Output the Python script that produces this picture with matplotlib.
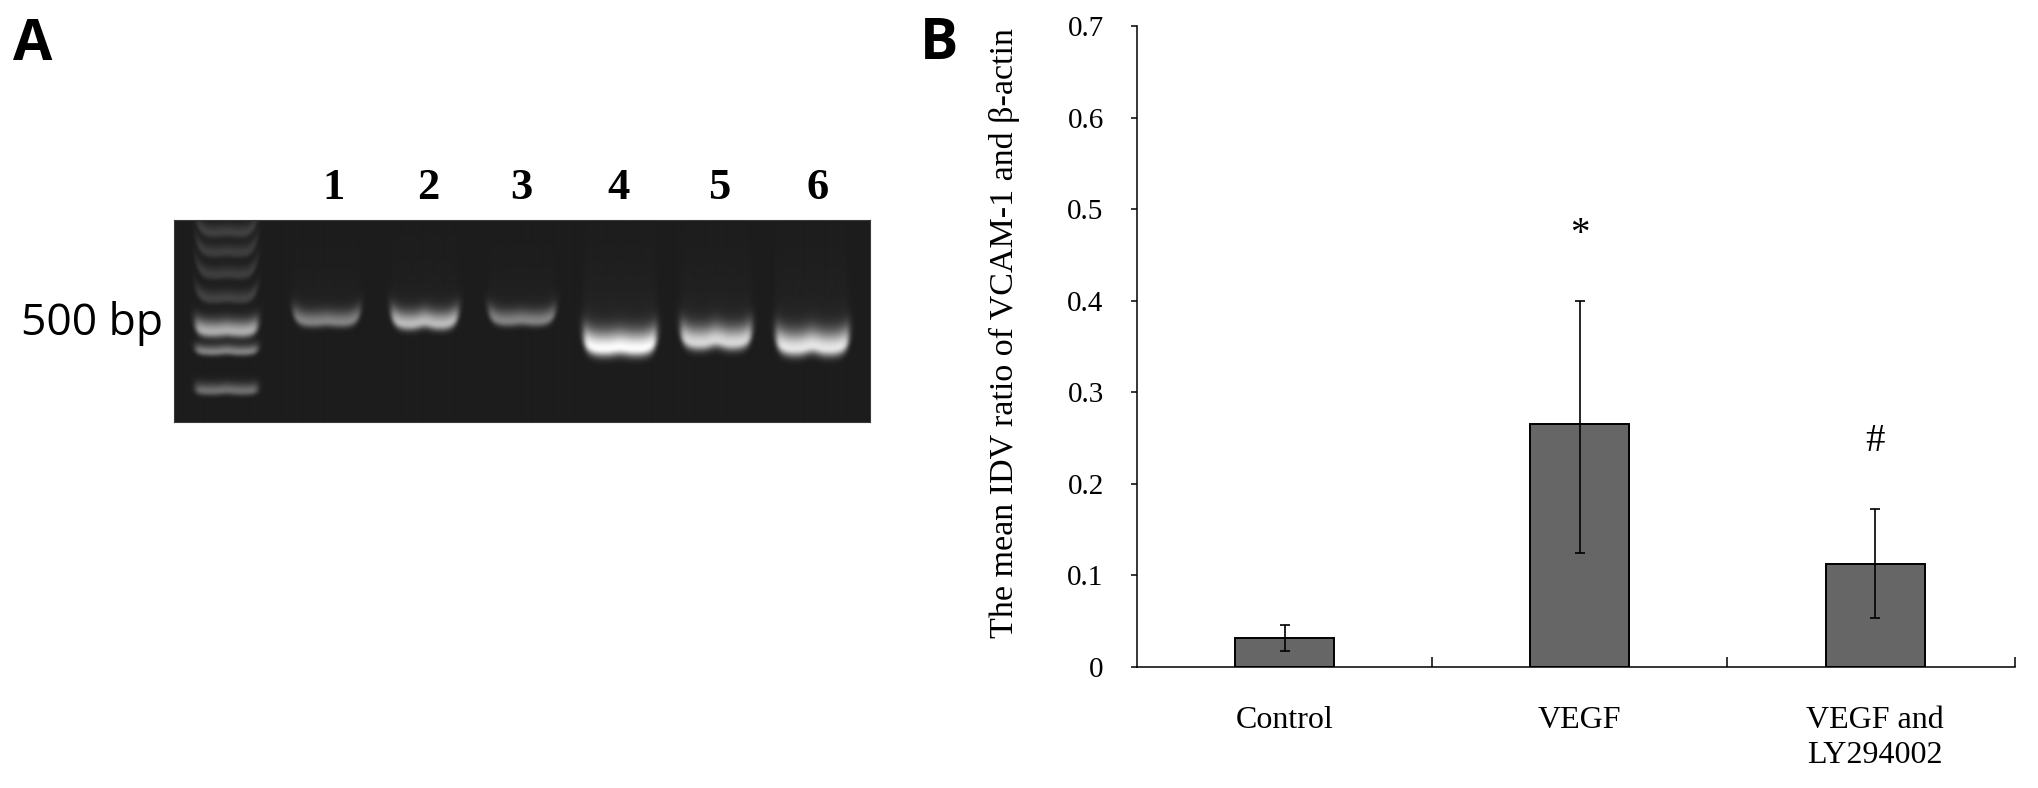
#!/usr/bin/env python3
"""Two panel figure: gel picture (A) and VCAM-1 bar chart (B)."""

import numpy as np
import matplotlib
matplotlib.use("Agg")
import matplotlib.pyplot as plt

# panel B values
categories = ["Control", "VEGF", "VEGF and\nLY294002"]
means = [0.032, 0.265, 0.113]
err_low = [0.014, 0.140, 0.060]
err_high = [0.014, 0.135, 0.059]
marks = ["", "*", "#"]
mark_heights = [None, 0.472, 0.246]
y_ticks = [0, 0.1, 0.2, 0.3, 0.4, 0.5, 0.6, 0.7]
y_tick_labels = ["0", "0.1", "0.2", "0.3", "0.4", "0.5", "0.6", "0.7"]

# panel A gel, positions in image pixels
lane_labels = ["1", "2", "3", "4", "5", "6"]
lane_label_x = [334, 428, 521, 619, 719, 818]
lane_x = [326, 424, 521, 619, 715, 811]
lane_half = [33, 33, 33, 36, 35, 36]
lane_edge = [327, 330, 326, 356, 350, 356]
lane_peak = [0.36, 0.58, 0.36, 0.80, 0.66, 0.72]
lane_thick = [11, 13, 11, 17, 16, 17]
lane_glow = [0.06, 0.06, 0.06, 0.10, 0.09, 0.09]
lane_notch = [1.0, 2.5, 1.0, 1.5, 3.0, 3.0]
ladder_y = [232, 252, 274, 298, 330, 351, 390]
ladder_peak = [0.15, 0.14, 0.14, 0.16, 0.58, 0.42, 0.34]
ladder_thick = [9, 9, 9, 9, 12, 7, 8]
ladder_curl = [16, 16, 16, 12, 6, 3, 2]

W, H = 2038, 788
GEL_X0, GEL_X1, GEL_Y0, GEL_Y1 = 174, 870, 220, 422
AX_X0, AX_X1, AX_Y0, AX_Y1 = 1137, 2015, 26, 667
SERIF = "Liberation Serif"
SANS = "Open Sans"


def add_band(img, xx, yy, cx, half, edge, peak, thick, glow, curl=9.0, notch=2.5):
    """Add one smiling band to the gel array."""
    u = (xx - cx) / half
    y_edge = edge - curl * u ** 6 - notch * np.exp(-(u / 0.25) ** 2)
    d = y_edge - yy
    side = 0.5 * (np.tanh((1 - np.abs(u)) * half / 3.0) + 1)
    centre = d - thick * 0.45
    above = peak * np.exp(-(centre / thick) ** 2) + glow * np.exp(-np.clip(d, 0, None) / (thick * 2.5))
    below = (peak + glow) * np.exp(-(centre / (thick * 0.45)) ** 2)
    img += side * np.where(centre > 0, above, below)


def blur(img, size=7):
    kernel = np.hanning(size + 2)[1:-1]
    kernel = kernel / kernel.sum()
    pad = size // 2
    out = np.pad(img, pad, mode="edge")
    out = np.apply_along_axis(lambda r: np.convolve(r, kernel, mode="same"), 0, out)
    out = np.apply_along_axis(lambda r: np.convolve(r, kernel, mode="same"), 1, out)
    return out[pad:-pad, pad:-pad]


def draw_gel(ax):
    xs = np.arange(GEL_X0, GEL_X1)
    ys = np.arange(GEL_Y0, GEL_Y1)
    xx, yy = np.meshgrid(xs, ys)
    img = np.zeros_like(xx, dtype=float)
    for y, p, t, c in zip(ladder_y, ladder_peak, ladder_thick, ladder_curl):
        add_band(img, xx, yy, 226, 31, y + t * 0.6, p, t, 0.0, curl=c, notch=1.0)
    for i in range(len(lane_x)):
        add_band(img, xx, yy, lane_x[i], lane_half[i], lane_edge[i], lane_peak[i],
                 lane_thick[i], lane_glow[i], notch=lane_notch[i])
    img = np.clip(0.11 + blur(img), 0, 1)
    ax.imshow(img, cmap="gray", vmin=0, vmax=1, aspect="auto", interpolation="bilinear")
    ax.set_xticks([])
    ax.set_yticks([])
    for s in ax.spines.values():
        s.set_color("#3a3a3a")
        s.set_linewidth(0.8)


def main():
    fig = plt.figure(figsize=(W / 100, H / 100), dpi=100, facecolor="white")

    gel = fig.add_axes([GEL_X0 / W, 1 - GEL_Y1 / H, (GEL_X1 - GEL_X0) / W, (GEL_Y1 - GEL_Y0) / H])
    draw_gel(gel)

    ax = fig.add_axes([AX_X0 / W, 1 - AX_Y1 / H, (AX_X1 - AX_X0) / W, (AX_Y1 - AX_Y0) / H])
    pos = np.arange(len(categories))
    x_end = 2.474
    ax.bar(pos, means, width=0.335, color="#666666", edgecolor="black", linewidth=1.4,
           yerr=[err_low, err_high], ecolor="black",
           error_kw={"elinewidth": 1.2, "capsize": 3.5, "capthick": 1.2})
    ax.set_xlim(-0.5, x_end)
    ax.set_ylim(0, 0.7)
    ax.spines["top"].set_visible(False)
    ax.spines["right"].set_visible(False)
    ax.spines["left"].set_linewidth(1.1)
    ax.spines["bottom"].set_linewidth(1.1)

    ax.set_yticks(y_ticks)
    ax.set_yticklabels(y_tick_labels, family=SERIF, fontsize=21)
    ax.tick_params(axis="y", direction="out", length=4, width=1.1, pad=20)
    ax.set_xticks([0.5, 1.5, x_end])
    ax.set_xticklabels([])
    ax.tick_params(axis="x", direction="in", length=7, width=1.1)

    for i, label in enumerate(categories):
        ax.annotate(label, xy=(pos[i], 0), xytext=(0, -28), textcoords="offset points",
                    ha="center", va="top", family=SERIF, fontsize=23, linespacing=1.3,
                    annotation_clip=False)
    for i, m in enumerate(marks):
        if m:
            ax.text(pos[i], mark_heights[i], m, ha="center", va="center", family=SERIF, fontsize=28)

    fig.text(1004 / W, 1 - 333 / H, "The mean IDV ratio of VCAM-1 and β-actin", rotation=90,
             ha="center", va="center", family=SERIF, fontsize=24.5)

    # panel letters and gel labels
    fig.text(13 / W, 1 - 60 / H, "A", family=SANS, fontweight="bold", fontsize=41, ha="left", va="baseline")
    fig.text(920 / W, 1 - 59 / H, "B", family=SANS, fontweight="bold", fontsize=41, ha="left", va="baseline")
    fig.text(92 / W, 1 - 323 / H, "500 bp", family=SANS, fontsize=32, ha="center", va="center")
    for x, s in zip(lane_label_x, lane_labels):
        fig.text(x / W, 1 - 199 / H, s, family=SERIF, fontweight="bold", fontsize=32, ha="center", va="baseline")

    fig.savefig("out.png", dpi=100)


if __name__ == "__main__":
    main()
